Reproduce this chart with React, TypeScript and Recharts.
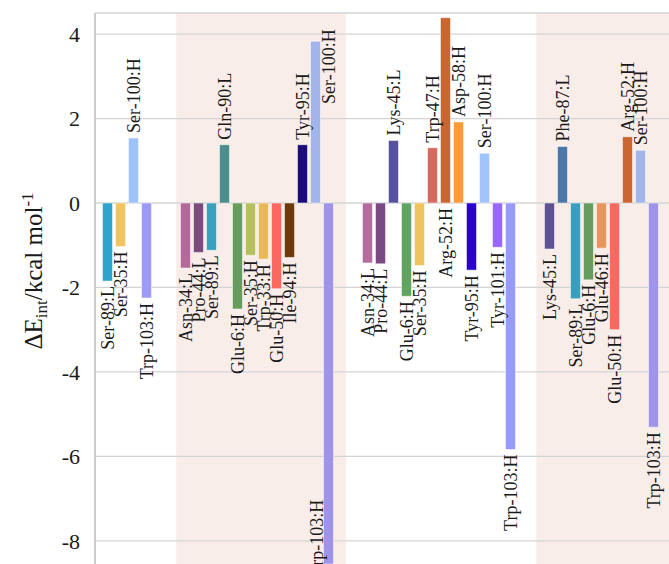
import React from "react";
import {
  BarChart,
  Bar,
  Cell,
  XAxis,
  YAxis,
  CartesianGrid,
  ReferenceArea,
  LabelList,
} from "recharts";

// residues and interaction energies (kcal/mol), four complexes
const group1Names = ["Ser-89:L", "Ser-35:H", "Ser-100:H", "Trp-103:H"];
const group1Values = [-1.85, -1.03, 1.54, -2.25];

const group2Names = [
  "Asn-34:L", "Pro-44:L", "Ser-89:L", "Gln-90:L", "Glu-6:H", "Ser-35:H",
  "Trp-33:H", "Glu-50:H", "Ile-94:H", "Tyr-95:H", "Ser-100:H", "Trp-103:H",
];
const group2Values = [-1.54, -1.17, -1.12, 1.38, -2.51, -1.24, -1.33, -2.03, -1.29, 1.38, 3.83, -8.55];

const group3Names = [
  "Asn-34:L", "Pro-44:L", "Lys-45:L", "Glu-6:H", "Ser-35:H", "Trp-47:H",
  "Arg-52:H", "Asp-58:H", "Tyr-95:H", "Ser-100:H", "Tyr-101:H", "Trp-103:H",
];
const group3Values = [-1.42, -1.44, 1.48, -2.21, -1.48, 1.31, 4.39, 1.92, -1.59, 1.18, -1.05, -5.84];

const group4Names = [
  "Lys-45:L", "Phe-87:L", "Ser-89:L", "Glu-6:H", "Glu-46:H", "Glu-50:H",
  "Arg-52:H", "Ser-100:H", "Trp-103:H",
];
const group4Values = [-1.09, 1.34, -2.27, -1.82, -1.07, -3.0, 1.57, 1.25, -5.31];

const yTicks = [4, 2, 0, -2, -4, -6, -8];

// colours, one list per group
const group1Colors = ["#2ea3cb", "#f0c45e", "#a0c2fa", "#9d9bf7"];
const group2Colors = [
  "#b5699a", "#7d4a7e", "#3aa0c0", "#4b8e8c", "#689c5e", "#b6c05e",
  "#eab85a", "#fb6860", "#6e3a0a", "#1c0c7a", "#a2b5ea", "#9f94e8",
];
const group3Colors = [
  "#b66b9e", "#7a4a85", "#57529f", "#5fa462", "#efc45e", "#d66a60",
  "#c96632", "#fe9a37", "#2b00cc", "#a0c4fc", "#9966ff", "#9a9afc",
];
const group4Colors = [
  "#5e5292", "#4d77a9", "#389fbe", "#689c5e", "#e6955c", "#fb6860",
  "#cb6632", "#a2b5ea", "#9f94e8",
];

// labels that are moved beside the bar, or flipped under the zero line
const sideLabels = ["2/Ser-100:H", "2/Trp-103:H"];
const flippedLabels = ["3/Arg-52:H"];

const GROUP_START = [0, 6, 20, 34];
const SHADED = [
  [5.25, 18.3],
  [32.95, 44],
];

const groups = [
  { names: group1Names, values: group1Values, colors: group1Colors },
  { names: group2Names, values: group2Values, colors: group2Colors },
  { names: group3Names, values: group3Values, colors: group3Colors },
  { names: group4Names, values: group4Values, colors: group4Colors },
];

const rows = groups.flatMap((g, gi) =>
  g.names.map((name, i) => {
    const key = `${gi + 1}/${name}`;
    return {
      x: GROUP_START[gi] + i,
      name,
      value: g.values[i],
      color: g.colors[i],
      mode: sideLabels.includes(key) ? "side" : flippedLabels.includes(key) ? "flip" : "end",
    };
  })
);

const FONT = "'Liberation Serif', 'Times New Roman', serif";
const GAP = 5;

const BarLabel = (props: any) => {
  const vb = props.viewBox || props;
  const row = rows[props.index];
  if (!row || vb == null) return null;
  const top = Math.min(vb.y, vb.y + vb.height);
  const bottom = Math.max(vb.y, vb.y + vb.height);
  const cx = vb.x + vb.width / 2;
  const pos = row.value >= 0;
  let ax = cx;
  let ay: number;
  let anchor: "start" | "end";
  if (row.mode === "flip") {
    ay = bottom + GAP;
    anchor = "end";
  } else if (row.mode === "side") {
    if (pos) {
      ax = cx + 13;
      ay = top - 12;
      anchor = "end";
    } else {
      ax = cx - 12;
      ay = bottom + 12;
      anchor = "start";
    }
  } else if (pos) {
    ay = top - GAP;
    anchor = "start";
  } else {
    ay = bottom + GAP;
    anchor = "end";
  }
  return (
    <text
      x={ax}
      y={ay}
      dy="0.35em"
      transform={`rotate(-90 ${ax} ${ay})`}
      textAnchor={anchor}
      fontFamily={FONT}
      fontSize={18}
      fill="#1a1a1a"
    >
      {row.name}
    </text>
  );
};

const YTitle = () => (
  <text
    x={42}
    y={271}
    transform="rotate(-90 42 271)"
    textAnchor="middle"
    fontFamily={FONT}
    fontSize={25}
    fill="#1a1a1a"
  >
    ΔE
    <tspan dy={5} fontSize={17}>int</tspan>
    <tspan dy={-5}>/kcal mol</tspan>
    <tspan dy={-9} fontSize={17}>-1</tspan>
  </text>
);

export default function App() {
  return (
    <div
      style={{
        position: "fixed",
        left: 0,
        top: 0,
        width: 669,
        height: 564,
        overflow: "hidden",
        background: "#fff",
      }}
    >
      <BarChart
        width={700}
        height={600}
        data={rows}
        margin={{ top: 13, right: 20, bottom: 17, left: 0 }}
      >
        {SHADED.map(([a, b]) => (
          <ReferenceArea
            key={a}
            x1={a}
            x2={b}
            y1={4.5}
            y2={-9}
            fill="#f9ede9"
            fillOpacity={1}
            stroke="none"
            zIndex={-150}
            ifOverflow="visible"
          />
        ))}
        <CartesianGrid vertical={false} stroke="#d4d4d4" strokeWidth={1.3} />
        <XAxis dataKey="x" type="number" domain={[-1, 44]} hide />
        <YAxis
          type="number"
          domain={[-9, 4.5]}
          ticks={yTicks}
          width={95}
          allowDataOverflow
          tickLine={false}
          tickMargin={9}
          axisLine={{ stroke: "#cccccc", strokeWidth: 2 }}
          tick={{ fill: "#1a1a1a", fontSize: 22, fontFamily: FONT }}
          label={<YTitle />}
        />
        <Bar dataKey="value" barSize={10} isAnimationActive={false} stroke="#ffffff" strokeOpacity={0.5} strokeWidth={1}>
          {rows.map((r) => (
            <Cell key={r.x} fill={r.color} />
          ))}
          <LabelList dataKey="name" content={BarLabel} />
        </Bar>
      </BarChart>
    </div>
  );
}
